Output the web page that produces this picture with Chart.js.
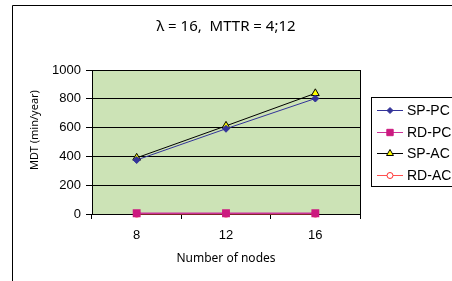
<!DOCTYPE html>
<html>
<head>
<meta charset="utf-8">
<script src="https://cdn.jsdelivr.net/npm/chart.js@4"></script>
<style>
  html, body { margin: 0; padding: 0; background: #fff; }
  #wrap { width: 452px; height: 281px; overflow: hidden; }
</style>
</head>
<body>
<div id="wrap"><canvas id="myChart" width="452" height="281"></canvas></div>
<script>
// data
var nodes = ["8", "12", "16"];
var spPC = [375, 592, 802];
var rdPC = [5, 5, 5];
var spAC = [390, 612, 838];
var rdAC = [2, 2, 2];
var yTicks = [0, 200, 400, 600, 800, 1000];

var tickFont = { family: "'Liberation Sans', Arial, sans-serif", size: 13 };
var textFont = "'Noto Sans', sans-serif";

// background, outer frame, plot frame, y title and legend
var decor = {
  id: "decor",
  beforeDraw: function (chart) {
    var ctx = chart.ctx, a = chart.chartArea;
    ctx.save();
    ctx.fillStyle = "#fff";
    ctx.fillRect(0, 0, chart.width, chart.height);
    ctx.fillStyle = "#cce3b6";
    ctx.fillRect(a.left, a.top, a.right - a.left, a.bottom - a.top);
    ctx.strokeStyle = "#000";
    ctx.lineWidth = 1;
    ctx.beginPath();
    ctx.moveTo(12.5, chart.height);
    ctx.lineTo(12.5, 5.5);
    ctx.lineTo(chart.width, 5.5);
    ctx.stroke();
    ctx.restore();
  },
  beforeDatasetsDraw: function (chart) {
    var ctx = chart.ctx, a = chart.chartArea;
    ctx.save();
    ctx.strokeStyle = "#000";
    ctx.lineWidth = 1;
    ctx.beginPath();
    ctx.moveTo(Math.round(a.right) + 0.5, a.top);
    ctx.lineTo(Math.round(a.right) + 0.5, a.bottom);
    ctx.stroke();
    ctx.restore();
  },
  afterDraw: function (chart) {
    var ctx = chart.ctx;
    ctx.save();
    // y axis title
    ctx.translate(35, 130);
    ctx.rotate(-Math.PI / 2);
    ctx.fillStyle = "#000";
    ctx.font = "11px " + textFont;
    ctx.textAlign = "center";
    ctx.textBaseline = "middle";
    ctx.fillText("MDT (min/year)", 0, 0);
    ctx.restore();

    // legend box
    ctx.save();
    ctx.fillStyle = "#fff";
    ctx.fillRect(371.5, 97.5, 100, 89);
    ctx.strokeStyle = "#000";
    ctx.lineWidth = 1;
    ctx.strokeRect(371.5, 97.5, 100, 89);
    var rows = [110, 132, 153, 175];
    chart.data.datasets.forEach(function (ds, i) {
      var y = rows[i];
      ctx.strokeStyle = ds.borderColor;
      ctx.lineWidth = 1;
      ctx.beginPath();
      ctx.moveTo(377, y + 0.5);
      ctx.lineTo(403, y + 0.5);
      ctx.stroke();
      ctx.fillStyle = ds.pointBackgroundColor;
      ctx.strokeStyle = ds.pointBorderColor;
      Chart.helpers.drawPoint(ctx, {
        pointStyle: ds.pointStyle,
        radius: ds.legendRadius,
        rotation: 0,
        borderWidth: 1
      }, 390, y + 0.5);
      ctx.fillStyle = "#000";
      ctx.font = "14px " + tickFont.family;
      ctx.textAlign = "left";
      ctx.textBaseline = "middle";
      ctx.fillText(ds.label, 407, y + 1);
    });
    ctx.restore();
  }
};

var ctx = document.getElementById("myChart").getContext("2d");
var chart = new Chart(ctx, {
  type: "line",
  data: {
    labels: nodes,
    datasets: [
      {
        label: "SP-PC",
        data: spPC,
        borderColor: "#333399",
        borderWidth: 1,
        pointStyle: "rectRot",
        pointRadius: 3.5,
        legendRadius: 3,
        pointBackgroundColor: "#333399",
        pointBorderColor: "#333399",
        clip: false
      },
      {
        label: "RD-PC",
        data: rdPC,
        borderColor: "#cc3399",
        borderWidth: 1.5,
        pointStyle: "rect",
        pointRadius: 4.5,
        legendRadius: 4.5,
        pointBackgroundColor: "#cc1a80",
        pointBorderColor: "#cc1a80",
        clip: false
      },
      {
        label: "SP-AC",
        data: spAC,
        borderColor: "#000000",
        borderWidth: 1,
        pointStyle: "triangle",
        pointRadius: 4.5,
        legendRadius: 4,
        pointBackgroundColor: "#ffff00",
        pointBorderColor: "#000000",
        clip: false
      },
      {
        label: "RD-AC",
        data: rdAC,
        borderColor: "#ff5050",
        borderWidth: 1.5,
        pointStyle: "circle",
        pointRadius: 3,
        legendRadius: 3,
        pointBackgroundColor: "#ffffff",
        pointBorderColor: "#ff3030",
        clip: false
      }
    ]
  },
  options: {
    responsive: false,
    animation: false,
    devicePixelRatio: 1,
    layout: { padding: { left: 12, right: 92, top: 0, bottom: 0 } },
    plugins: {
      legend: { display: false },
      tooltip: { enabled: false },
      title: {
        display: true,
        fullSize: false,
        text: "\u03bb = 16,  MTTR = 4;12",
        color: "#000",
        font: { family: textFont, size: 15, weight: "normal" },
        padding: { top: 18, bottom: 34 }
      }
    },
    scales: {
      x: {
        offset: true,
        grid: { display: true, drawOnChartArea: false, drawTicks: true, tickLength: 5, color: "#000", offset: true },
        border: { display: true, color: "#000", width: 1 },
        ticks: { color: "#000", font: tickFont, padding: 9, maxRotation: 0 },
        title: {
          display: true,
          text: "Number of nodes",
          color: "#000",
          font: { family: textFont, size: 12 },
          padding: { top: 0, bottom: 15 }
        },
        afterFit: function (s) { s.height = 67; }
      },
      y: {
        min: yTicks[0],
        max: yTicks[yTicks.length - 1],
        ticks: {
          stepSize: yTicks[1] - yTicks[0],
          color: "#000",
          font: tickFont,
          padding: 5,
          callback: function (v) { return String(v); }
        },
        grid: { color: "#000", tickLength: 6, drawTicks: true },
        border: { display: true, color: "#000", width: 1 },
        afterFit: function (s) { s.width = 80; }
      }
    }
  },
  plugins: [decor]
});
</script>
</body>
</html>
